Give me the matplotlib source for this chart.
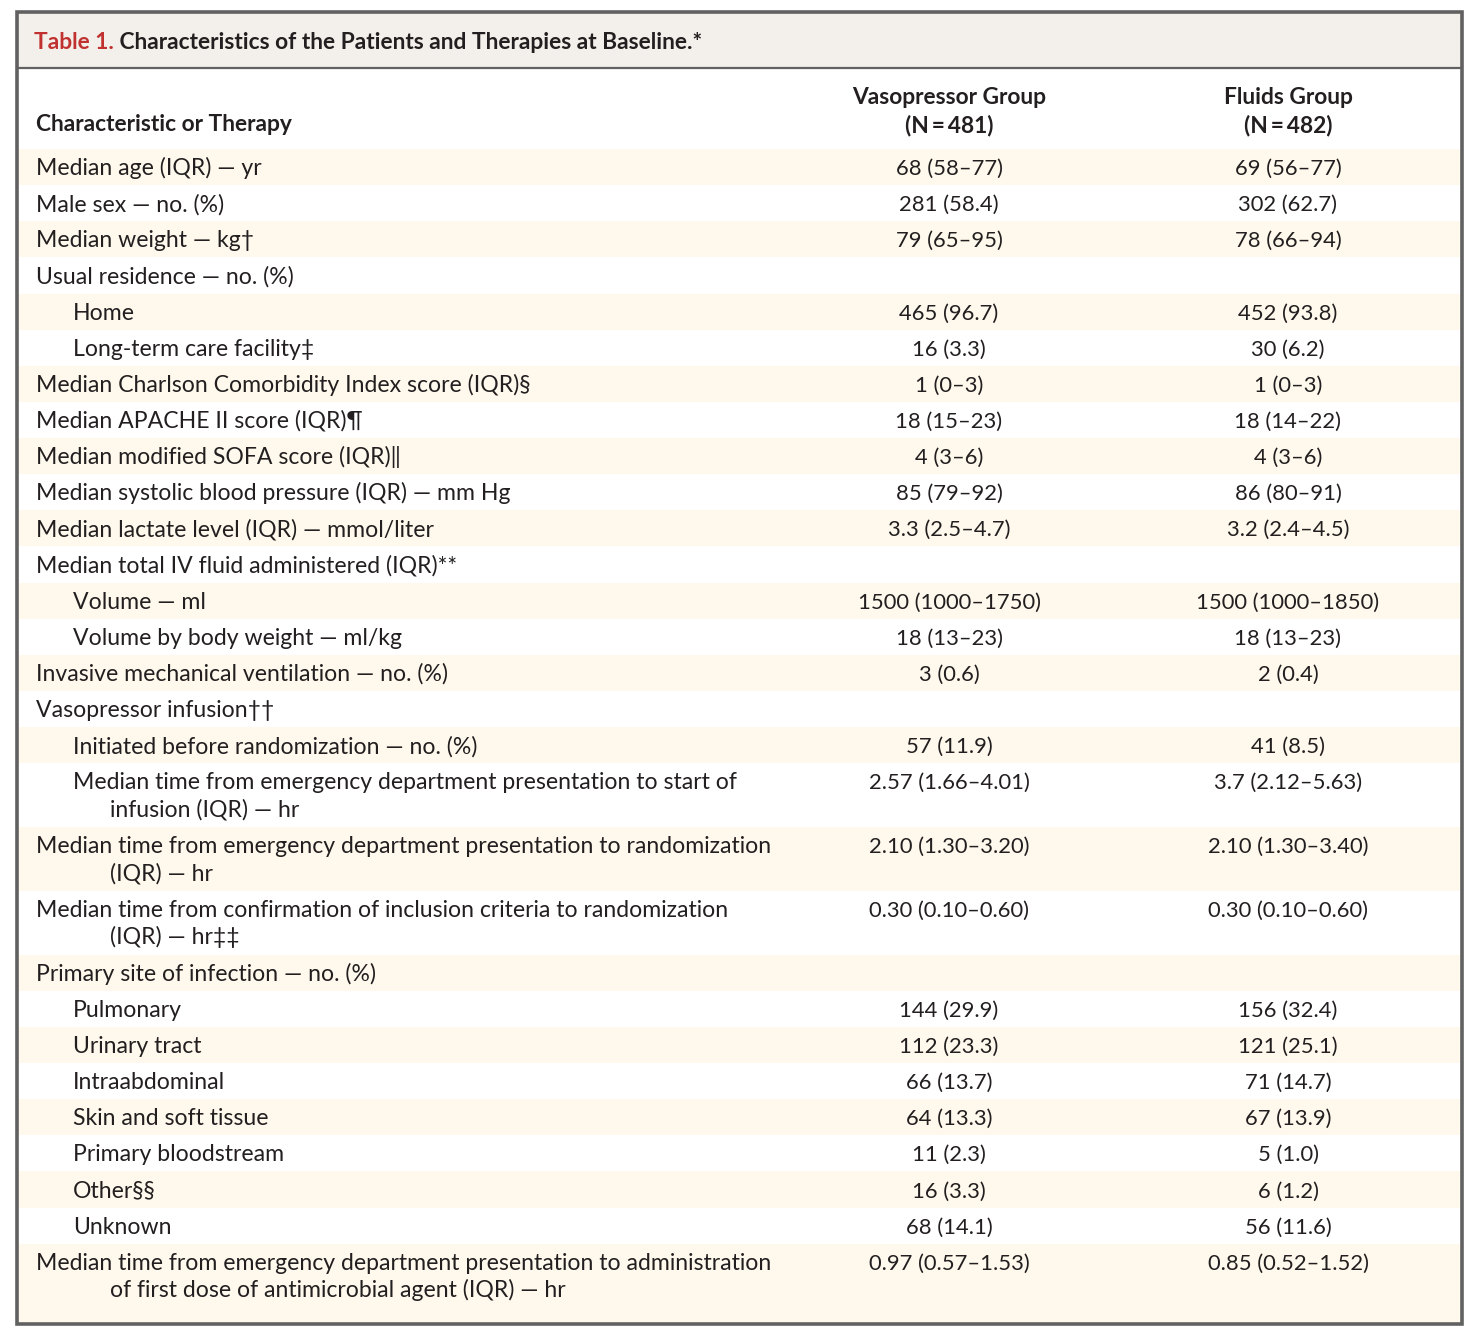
import matplotlib
matplotlib.use("Agg")
import matplotlib.pyplot as plt
from matplotlib.patches import Rectangle

# ---------------- data ----------------
title_prefix = "Table 1."
title_rest = " Characteristics of the Patients and Therapies at Baseline.*"
col0_header = "Characteristic or Therapy"
group_headers = ["Vasopressor Group\n(N\u2009=\u2009481)", "Fluids Group\n(N\u2009=\u2009482)"]

labels = [
    "Median age (IQR) \u2014 yr",
    "Male sex \u2014 no. (%)",
    "Median weight \u2014 kg\u2020",
    "Usual residence \u2014 no. (%)",
    "Home",
    "Long-term care facility\u2021",
    "Median Charlson Comorbidity Index score (IQR)\u00a7",
    "Median APACHE II score (IQR)\u00b6",
    "Median modified SOFA score (IQR)\u2016",
    "Median systolic blood pressure (IQR) \u2014 mm Hg",
    "Median lactate level (IQR) \u2014 mmol/liter",
    "Median total IV fluid administered (IQR)**",
    "Volume \u2014 ml",
    "Volume by body weight \u2014 ml/kg",
    "Invasive mechanical ventilation \u2014 no. (%)",
    "Vasopressor infusion\u2020\u2020",
    "Initiated before randomization \u2014 no. (%)",
    "Median time from emergency department presentation to start of\ninfusion (IQR) \u2014 hr",
    "Median time from emergency department presentation to randomization\n(IQR) \u2014 hr",
    "Median time from confirmation of inclusion criteria to randomization\n(IQR) \u2014 hr\u2021\u2021",
    "Primary site of infection \u2014 no. (%)",
    "Pulmonary",
    "Urinary tract",
    "Intraabdominal",
    "Skin and soft tissue",
    "Primary bloodstream",
    "Other\u00a7\u00a7",
    "Unknown",
    "Median time from emergency department presentation to administration\nof first dose of antimicrobial agent (IQR) \u2014 hr",
]
indent = [0, 0, 0, 0, 1, 1, 0, 0, 0, 0, 0, 0, 1, 1, 0, 0, 1, 1, 0, 0, 0,
          1, 1, 1, 1, 1, 1, 1, 0]

vasopressor = ["68 (58\u201377)", "281 (58.4)", "79 (65\u201395)", "", "465 (96.7)", "16 (3.3)",
               "1 (0\u20133)", "18 (15\u201323)", "4 (3\u20136)", "85 (79\u201392)", "3.3 (2.5\u20134.7)", "",
               "1500 (1000\u20131750)", "18 (13\u201323)", "3 (0.6)", "", "57 (11.9)",
               "2.57 (1.66\u20134.01)", "2.10 (1.30\u20133.20)", "0.30 (0.10\u20130.60)", "",
               "144 (29.9)", "112 (23.3)", "66 (13.7)", "64 (13.3)", "11 (2.3)", "16 (3.3)",
               "68 (14.1)", "0.97 (0.57\u20131.53)"]
fluids = ["69 (56\u201377)", "302 (62.7)", "78 (66\u201394)", "", "452 (93.8)", "30 (6.2)",
          "1 (0\u20133)", "18 (14\u201322)", "4 (3\u20136)", "86 (80\u201391)", "3.2 (2.4\u20134.5)", "",
          "1500 (1000\u20131850)", "18 (13\u201323)", "2 (0.4)", "", "41 (8.5)",
          "3.7 (2.12\u20135.63)", "2.10 (1.30\u20133.40)", "0.30 (0.10\u20130.60)", "",
          "156 (32.4)", "121 (25.1)", "71 (14.7)", "67 (13.9)", "5 (1.0)", "6 (1.2)",
          "56 (11.6)", "0.85 (0.52\u20131.52)"]

# ---------------- layout / style ----------------
W, H = 1475, 1339
FONT = ["Lato", "DejaVu Sans"]
plt.rcParams["font.family"] = FONT
TXT = "#231f20"
RED = "#c0312f"
STRIPE = "#fef9ec"
BAND = "#f3f0eb"
BORDER = "#616161"

fig = plt.figure(figsize=(W / 100, H / 100), dpi=100)
ax = fig.add_axes([0, 0, 1, 1])
ax.set_xlim(0, W)
ax.set_ylim(H, 0)
ax.axis("off")

left, right, top, bottom = 17, 1462, 12, 1324
x_lvl = [36, 73]
x_cont = 110
col_x = [949, 1288]
label_fs = 16.6
value_fs = 15.8
head_fs = 16.4
title_fs = 16.4

# title band
ax.add_patch(Rectangle((left, top), right - left, 56, facecolor=BAND, edgecolor="none", zorder=0))
ax.plot([left, right], [68, 68], color=BORDER, lw=1.6, zorder=3, solid_capstyle="butt")

t1 = ax.text(34, 49, title_prefix, color=RED, fontsize=title_fs, fontweight="bold",
             va="baseline", ha="left")
fig.canvas.draw()
bb = t1.get_window_extent(fig.canvas.get_renderer())
ax.text(bb.x1, 49, title_rest, color=TXT, fontsize=title_fs, fontweight="bold",
        va="baseline", ha="left")

# header
ax.text(x_lvl[0], 131, col0_header, color=TXT, fontsize=head_fs, fontweight="bold", va="baseline")
for cx, hdr in zip(col_x, group_headers):
    l1, l2 = hdr.split("\n")
    ax.text(cx, 104, l1, color=TXT, fontsize=head_fs, fontweight="bold", va="baseline", ha="center")
    ax.text(cx, 132, l2, color=TXT, fontsize=head_fs, fontweight="bold", va="baseline", ha="center")

# body rows
single_h = 36.13
double_h = 63.8
y = 149.0
n = len(labels)
for i, (lab, lvl, v1, v2) in enumerate(zip(labels, indent, vasopressor, fluids)):
    lines = lab.split("\n")
    h = single_h if len(lines) == 1 else double_h
    h_fill = (bottom - y) if i == n - 1 else h
    if i % 2 == 0:
        ax.add_patch(Rectangle((left, y), right - left, h_fill, facecolor=STRIPE,
                               edgecolor="none", zorder=0))
    base = y + 26
    ax.text(x_lvl[lvl], base, lines[0], color=TXT, fontsize=label_fs, va="baseline", ha="left")
    for k, extra in enumerate(lines[1:]):
        ax.text(x_cont, base + 27.5 * (k + 1), extra, color=TXT, fontsize=label_fs,
                va="baseline", ha="left")
    ax.text(col_x[0], base, v1, color=TXT, fontsize=value_fs, va="baseline", ha="center")
    ax.text(col_x[1], base, v2, color=TXT, fontsize=value_fs, va="baseline", ha="center")
    y += h

# outer border
ax.add_patch(Rectangle((left, top), right - left, bottom - top, facecolor="none",
                       edgecolor=BORDER, lw=2.6, zorder=4))

fig.savefig("out.png", dpi=100, facecolor="white")
